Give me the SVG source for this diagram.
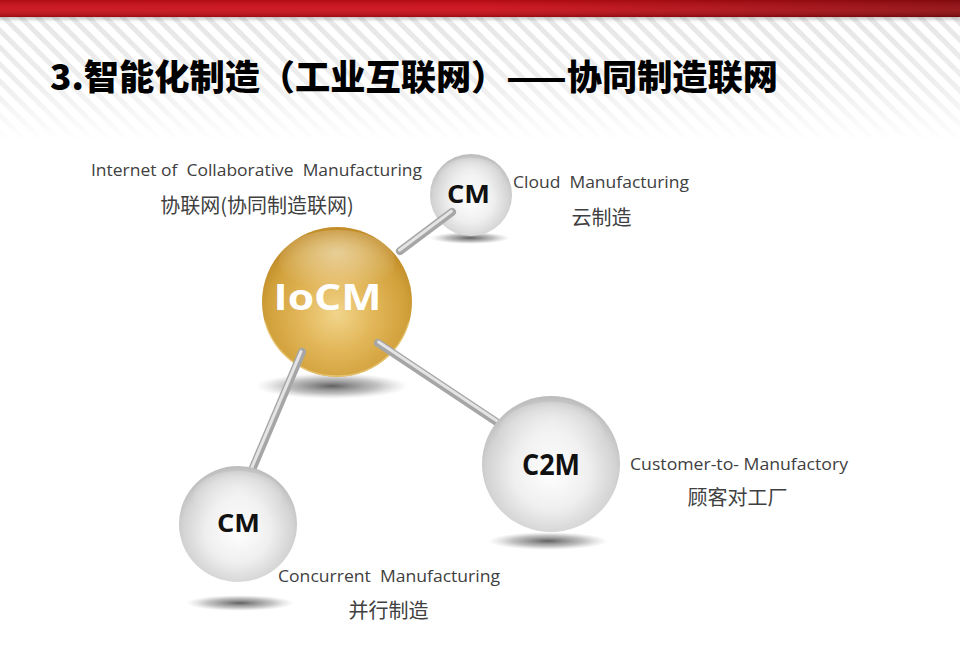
<svg xmlns="http://www.w3.org/2000/svg" width="960" height="653" viewBox="0 0 960 653">
<defs>
<style>
.lbl{font-family:"Open Sans","Liberation Sans",sans-serif;font-size:17px;fill:#404040;white-space:pre}
.cjk{font-family:"Noto Sans CJK SC",sans-serif;font-size:20px;fill:#404040;text-anchor:middle}
.nodeTxt{font-family:"Open Sans","Liberation Sans",sans-serif;font-weight:700;fill:#111;text-anchor:middle}
.rod{stroke:#a6a6a6;stroke-width:8;stroke-linecap:round;fill:none}
.rodHi{stroke:#e4e4e4;stroke-width:3;stroke-linecap:round;fill:none}
</style>
<linearGradient id="banner" x1="0" y1="0" x2="1" y2="0">
<stop offset="0" stop-color="#c80d16"/>
<stop offset="0.5" stop-color="#cc0c16"/>
<stop offset="1" stop-color="#900a0e"/>
</linearGradient>
<linearGradient id="bannerShade" x1="0" y1="0" x2="0" y2="1">
<stop offset="0" stop-color="#000" stop-opacity="0.12"/>
<stop offset="0.5" stop-color="#fff" stop-opacity="0.06"/>
<stop offset="1" stop-color="#000" stop-opacity="0.22"/>
</linearGradient>
<linearGradient id="underShade" x1="0" y1="0" x2="0" y2="1">
<stop offset="0" stop-color="#888" stop-opacity="0.45"/>
<stop offset="1" stop-color="#888" stop-opacity="0"/>
</linearGradient>
<pattern id="stripes" width="12" height="12" patternUnits="userSpaceOnUse" patternTransform="rotate(-45)">
<rect x="0" y="0" width="5" height="12" fill="#e6e6e6"/>
</pattern>
<linearGradient id="fade" x1="0" y1="0" x2="0" y2="1">
<stop offset="0" stop-color="#fff" stop-opacity="1"/>
<stop offset="0.55" stop-color="#fff" stop-opacity="0.65"/>
<stop offset="1" stop-color="#fff" stop-opacity="0"/>
</linearGradient>
<mask id="stripeMask">
<rect x="0" y="17" width="960" height="125" fill="url(#fade)"/>
</mask>
<radialGradient id="gold" cx="0.5" cy="0.58" r="0.55">
<stop offset="0" stop-color="#f1d58b"/>
<stop offset="0.45" stop-color="#e2b659"/>
<stop offset="0.85" stop-color="#d0a03a"/>
<stop offset="1" stop-color="#c38e2a"/>
</radialGradient>
<radialGradient id="silver" cx="0.5" cy="0.56" r="0.55">
<stop offset="0" stop-color="#ffffff"/>
<stop offset="0.5" stop-color="#efefef"/>
<stop offset="0.85" stop-color="#d3d3d3"/>
<stop offset="1" stop-color="#bdbdbd"/>
</radialGradient>
<radialGradient id="hilite" cx="0.5" cy="0.35" r="0.6">
<stop offset="0" stop-color="#fff" stop-opacity="0.45"/>
<stop offset="1" stop-color="#fff" stop-opacity="0"/>
</radialGradient>
<radialGradient id="shadow" cx="0.5" cy="0.5" r="0.5">
<stop offset="0" stop-color="#444" stop-opacity="0.85"/>
<stop offset="0.6" stop-color="#777" stop-opacity="0.45"/>
<stop offset="1" stop-color="#aaa" stop-opacity="0"/>
</radialGradient>
</defs>

<rect x="0" y="0" width="960" height="653" fill="#ffffff"/>
<rect x="0" y="17" width="960" height="125" fill="url(#stripes)" mask="url(#stripeMask)"/>
<rect x="0" y="0" width="960" height="17" fill="url(#banner)"/>
<rect x="0" y="0" width="960" height="17" fill="url(#bannerShade)"/>
<rect x="0" y="17" width="960" height="5" fill="url(#underShade)"/>

<text x="50" y="90" font-family="'Noto Sans CJK SC',sans-serif" font-weight="900" font-size="35" fill="#000" textLength="728" lengthAdjust="spacingAndGlyphs">3.智能化制造（工业互联网）——协同制造联网</text>

<g id="shadows">
<ellipse cx="332" cy="386" rx="76" ry="13" fill="url(#shadow)"/>
<ellipse cx="470" cy="238" rx="40" ry="6" fill="url(#shadow)"/>
<ellipse cx="548" cy="541" rx="60" ry="9" fill="url(#shadow)"/>
<ellipse cx="240" cy="603" rx="54" ry="8" fill="url(#shadow)"/>
</g>

<g id="node-cm-cloud">
<circle cx="471" cy="195" r="41" fill="url(#silver)"/>
<ellipse cx="471" cy="176" rx="32" ry="18" fill="url(#hilite)"/>
<text class="nodeTxt" x="468.5" y="203" font-size="25" textLength="43" lengthAdjust="spacingAndGlyphs">CM</text>
</g>

<g id="node-iocm">
<circle cx="337" cy="302" r="75" fill="url(#gold)"/>
<ellipse cx="337" cy="262" rx="58" ry="32" fill="url(#hilite)"/>
<path d="M 265 322 A 75 75 0 0 0 409 322" fill="none" stroke="#f2d58e" stroke-width="1.5" stroke-opacity="0.6"/>
<text x="327.5" y="310" font-family="'Open Sans','Liberation Sans',sans-serif" font-weight="700" font-size="36" fill="#ffffff" text-anchor="middle" textLength="108" lengthAdjust="spacingAndGlyphs">IoCM</text>
</g>

<g id="connectors">
<line class="rod" x1="400" y1="251" x2="452" y2="212"/>
<line class="rodHi" x1="399.4" y1="250.2" x2="451.4" y2="211.2"/>
<line class="rod" x1="378" y1="343" x2="510" y2="431"/>
<line class="rodHi" x1="378.6" y1="342" x2="510.6" y2="430"/>
<line class="rod" x1="302" y1="352" x2="246" y2="484"/>
<line class="rodHi" x1="301" y1="351.6" x2="245" y2="483.6"/>
</g>

<g id="node-c2m">
<ellipse cx="551" cy="464" rx="69" ry="68" fill="url(#silver)"/>
<ellipse cx="551" cy="432" rx="52" ry="30" fill="url(#hilite)"/>
<text class="nodeTxt" x="551" y="475" font-size="28" textLength="58" lengthAdjust="spacingAndGlyphs">C2M</text>
</g>

<g id="node-cm-concurrent">
<ellipse cx="238" cy="524" rx="59" ry="58" fill="url(#silver)"/>
<ellipse cx="238" cy="497" rx="45" ry="26" fill="url(#hilite)"/>
<text class="nodeTxt" x="238.5" y="532" font-size="25" textLength="43" lengthAdjust="spacingAndGlyphs">CM</text>
</g>

<g id="labels">
<text class="lbl" x="91" y="176" textLength="331" lengthAdjust="spacingAndGlyphs">Internet of  Collaborative  Manufacturing</text>
<text class="cjk" x="257" y="213">协联网(协同制造联网)</text>
<text class="lbl" x="513" y="188" textLength="176" lengthAdjust="spacingAndGlyphs">Cloud  Manufacturing</text>
<text class="cjk" x="601.5" y="225">云制造</text>
<text class="lbl" x="630" y="470" textLength="218" lengthAdjust="spacingAndGlyphs">Customer-to- Manufactory</text>
<text class="cjk" x="737.5" y="505">顾客对工厂</text>
<text class="lbl" x="278" y="582" textLength="222" lengthAdjust="spacingAndGlyphs">Concurrent  Manufacturing</text>
<text class="cjk" x="388.5" y="618">并行制造</text>
</g>
</svg>
